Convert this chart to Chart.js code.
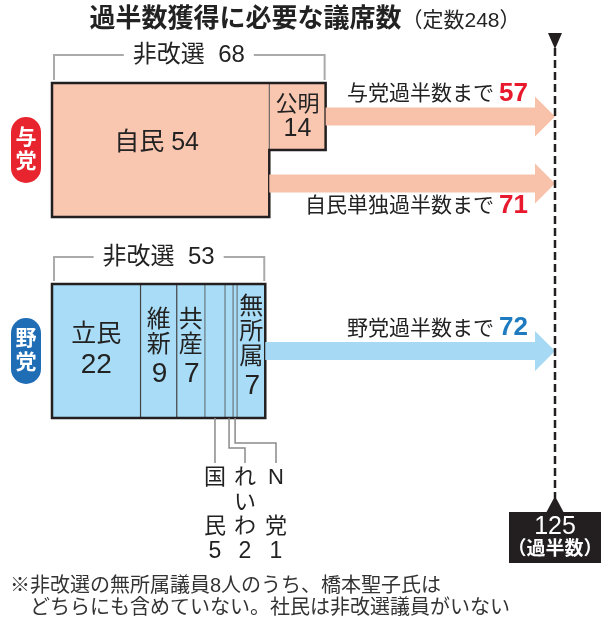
<!DOCTYPE html>
<html lang="ja">
<head>
<meta charset="UTF-8">
<title>過半数獲得に必要な議席数</title>
<script src="https://cdn.jsdelivr.net/npm/chart.js@4.4.1/dist/chart.umd.min.js"></script>
<style>
    html, body { margin: 0; padding: 0; background: #fff; }
    #wrap { position: relative; width: 613px; height: 631px; }
</style>
</head>
<body>
<div id="wrap"><canvas id="chartGiseki"></canvas></div>
<script>
// ============== DATA ==============

const rows = ['与党上', '与党下', '', '野党上', '野党下'];
const rulingParties = ['自民', '公明'];
const rulingSeats = [54, 14];
const oppParties = ['立民', '維新', '共産', '国民', 'れいわ', 'N党', '無所属'];
const oppSeats = [22, 9, 7, 5, 2, 1, 7];
const majority = 125;
const teisu = 248;
const arrowLabels = ['与党過半数まで', '自民単独過半数まで', '野党過半数まで'];
const arrowNeeds = [57, 71, 72];
const hikaisenTotals = [68, 53];
const noteLines = [
    '※非改選の無所属議員8人のうち、橋本聖子氏は',
    '　どちらにも含めていない。社民は非改選議員がいない'
];

// ============== STYLE ==============

// Latin digits from Liberation Sans, Japanese falls back to Noto CJK
const FONT = "'Liberation Sans', 'Noto Sans CJK JP', sans-serif";
const INK = '#231f20';
const RULING_FILL = '#f9c6b0';
const RULING_ARROW = '#f8c1a9';
const OPP_FILL = '#a9dcf6';
const OPP_ARROW = '#a6d9f3';
const RED = '#e8192c';
const BLUE = '#1f7bc0';

/**
 * Build bar datasets: ruling parties use rows 0-1 (公明 only row 0), opposition rows 3-4
 */
function buildDatasets() {
    const sets = [];
    rulingParties.forEach((name, i) => {
        const data = [rulingSeats[i], i === 0 ? rulingSeats[i] : null, null, null, null];
        sets.push({ label: name, data: data, backgroundColor: RULING_FILL });
    });
    oppParties.forEach((name, i) => {
        sets.push({ label: name, data: [null, null, null, oppSeats[i], oppSeats[i]], backgroundColor: OPP_FILL });
    });
    return sets;
}

function barBox(chart, dsIndex, row) {
    const el = chart.getDatasetMeta(dsIndex).data[row];
    const p = el.getProps(['x', 'y', 'base', 'height'], true);
    return { left: Math.min(p.x, p.base), right: Math.max(p.x, p.base), top: p.y - p.height / 2, bottom: p.y + p.height / 2, cy: p.y };
}

function text(ctx, str, x, y, font, color, align) {
    ctx.font = font;
    ctx.fillStyle = color;
    ctx.textAlign = align || 'center';
    ctx.textBaseline = 'middle';
    ctx.fillText(str, x, y);
}

function drawArrow(ctx, x0, x1, y, color) {
    const shaft = 9, head = 20, headLen = 20;
    ctx.fillStyle = color;
    ctx.beginPath();
    ctx.moveTo(x0, y - shaft);
    ctx.lineTo(x1 - headLen, y - shaft);
    ctx.lineTo(x1 - headLen, y - head);
    ctx.lineTo(x1, y);
    ctx.lineTo(x1 - headLen, y + head);
    ctx.lineTo(x1 - headLen, y + shaft);
    ctx.lineTo(x0, y + shaft);
    ctx.closePath();
    ctx.fill();
}

function drawArrowLabel(ctx, label, num, xr, y, numColor) {
    const numFont = 'bold 26px ' + FONT;
    ctx.font = numFont;
    const w = ctx.measureText(String(num)).width;
    text(ctx, String(num), xr, y, numFont, numColor, 'right');
    text(ctx, label, xr - w - 5, y + 1, '21px ' + FONT, '#222', 'right');
}

function drawBracket(ctx, label, left, right, y, bottom) {
    const f = '24px ' + FONT;
    ctx.font = f;
    const cx = (left + right) / 2;
    const half = ctx.measureText(label).width / 2 + 9;
    ctx.strokeStyle = '#aaaaaa';
    ctx.lineWidth = 2;
    ctx.beginPath();
    ctx.moveTo(cx - half, y);
    ctx.lineTo(left + 2, y);
    ctx.lineTo(left + 2, bottom);
    ctx.moveTo(cx + half, y);
    ctx.lineTo(right - 1, y);
    ctx.lineTo(right - 1, bottom);
    ctx.stroke();
    text(ctx, label, cx, y, f, '#222');
}

function drawPill(ctx, label, cx, cy, color) {
    const w = 30, h = 66, r = 15;
    ctx.fillStyle = color;
    ctx.beginPath();
    ctx.roundRect(cx - w / 2, cy - h / 2, w, h, r);
    ctx.fill();
    text(ctx, label[0], cx, cy - 12, 'bold 21px ' + FONT, '#fff');
    text(ctx, label[1], cx, cy + 12, 'bold 21px ' + FONT, '#fff');
}

// ============== OVERLAY PLUGIN ==============

const overlayPlugin = {
    id: 'overlay',
    afterDatasetsDraw(chart) {
        const ctx = chart.ctx;
        const xs = chart.scales.x;
        const nR = rulingParties.length;
        ctx.save();

        // ----- title -----
        const fMain = 'bold 26px ' + FONT;
        const fSub = '21px ' + FONT;
        const tMain = '過半数獲得に必要な議席数';
        const tSub = '（定数' + teisu + '）';
        ctx.font = fMain;
        const wMain = ctx.measureText(tMain).width;
        ctx.font = fSub;
        const wSub = ctx.measureText(tSub).width;
        const tx = 305 - (wMain + wSub) / 2;
        text(ctx, tMain, tx, 20, fMain, '#222', 'left');
        text(ctx, tSub, tx + wMain, 21, fSub, '#222', 'left');

        // ----- ruling block -----
        const jimin0 = barBox(chart, 0, 0);
        const jimin1 = barBox(chart, 0, 1);
        const komei = barBox(chart, 1, 0);
        ctx.strokeStyle = '#555';
        ctx.lineWidth = 1;
        ctx.beginPath();
        ctx.moveTo(komei.left, komei.top);
        ctx.lineTo(komei.left, komei.bottom);
        ctx.stroke();
        ctx.strokeStyle = INK;
        ctx.lineWidth = 2.5;
        ctx.beginPath();
        ctx.moveTo(jimin0.left, jimin0.top);
        ctx.lineTo(komei.right, komei.top);
        ctx.lineTo(komei.right, komei.bottom);
        ctx.lineTo(jimin1.right, komei.bottom);
        ctx.lineTo(jimin1.right, jimin1.bottom);
        ctx.lineTo(jimin1.left, jimin1.bottom);
        ctx.closePath();
        ctx.stroke();

        text(ctx, rulingParties[0] + ' ' + rulingSeats[0], (jimin1.left + jimin1.right) / 2 - 4, (jimin0.top + jimin1.bottom) / 2 - 7, '25px ' + FONT, '#222');
        const kx = (komei.left + komei.right) / 2;
        text(ctx, rulingParties[1], kx, komei.cy - 12, '22px ' + FONT, '#222');
        text(ctx, String(rulingSeats[1]), kx, komei.cy + 13, '25px ' + FONT, '#222');

        drawBracket(ctx, '非改選  ' + hikaisenTotals[0], jimin0.left, komei.right, jimin0.top - 28, jimin0.top - 3);
        drawPill(ctx, '与党', 26, (jimin0.top + jimin1.bottom) / 2, '#e8242e');

        // ----- opposition block -----
        const oppTop = barBox(chart, nR, 3).top;
        const oppBottom = barBox(chart, nR, 4).bottom;
        const oppMid = barBox(chart, nR, 3).bottom;
        const boxes = oppParties.map((p, i) => barBox(chart, nR + i, 3));
        boxes.forEach((b, i) => {
            if (i === 0) return;
            const narrow = (b.right - b.left) < 25 || (boxes[i - 1].right - boxes[i - 1].left) < 25;
            ctx.strokeStyle = narrow ? '#6b7880' : '#444';
            ctx.lineWidth = 1.2;
            ctx.beginPath();
            ctx.moveTo(b.left, oppTop);
            ctx.lineTo(b.left, oppBottom);
            ctx.stroke();
        });
        ctx.strokeStyle = INK;
        ctx.lineWidth = 2.5;
        ctx.strokeRect(boxes[0].left, oppTop, boxes[boxes.length - 1].right - boxes[0].left, oppBottom - oppTop);

        drawBracket(ctx, '非改選  ' + hikaisenTotals[1], boxes[0].left, boxes[boxes.length - 1].right, oppTop - 27, oppTop - 3);
        drawPill(ctx, '野党', 26, oppMid, '#1e6db5');

        // labels inside the block or below it with leader lines
        let leaderCol = 0;
        const colX0 = 214, colStep = 31;
        const rowY = [478, 503, 527, 552];
        boxes.forEach((b, i) => {
            const w = b.right - b.left;
            const cx = (b.left + b.right) / 2;
            const name = oppParties[i];
            const num = String(oppSeats[i]);
            if (w > 60) {
                text(ctx, name, cx, oppMid - 16, '25px ' + FONT, '#222');
                text(ctx, num, cx, oppMid + 14, '28px ' + FONT, '#222');
            } else if (w > 25) {
                const chars = name.split('');
                const n = chars.length + 1;
                const step = 25;
                const y0 = oppMid - 6 - (n - 1) * step / 2;
                chars.forEach((c, k) => text(ctx, c, cx, y0 + k * step, '24px ' + FONT, '#222'));
                text(ctx, num, cx + 1, y0 + chars.length * step + 4, '28px ' + FONT, '#222');
            } else {
                const lx = colX0 + leaderCol * colStep;
                const drop = [0, 30, 25][leaderCol];
                ctx.strokeStyle = '#8a8a8a';
                ctx.lineWidth = 1.5;
                ctx.beginPath();
                ctx.moveTo(cx, oppBottom);
                if (leaderCol === 0) {
                    ctx.lineTo(cx, 463);
                } else {
                    ctx.lineTo(cx, oppBottom + drop);
                    ctx.lineTo(lx, oppBottom + drop);
                    ctx.lineTo(lx, 463);
                }
                ctx.stroke();
                const tx2 = leaderCol === 0 ? cx : lx;
                const chars = name.split('');
                const slots = chars.length === 3 ? [0, 1, 2] : [0, 2];
                chars.forEach((c, k) => text(ctx, c, tx2, rowY[slots[k]], '22px ' + FONT, '#222'));
                text(ctx, num, tx2, rowY[3], '23px ' + FONT, '#222');
                leaderCol++;
            }
        });

        // ----- arrows -----
        const xEnd = xs.getPixelForValue(majority);
        const arrowRows = [jimin0.cy, jimin1.cy, oppMid];
        const arrowColors = [RULING_ARROW, RULING_ARROW, OPP_ARROW];
        const numColors = [RED, RED, BLUE];
        const labelDy = [-23, 22, -23];
        arrowNeeds.forEach((need, i) => {
            const x0 = xs.getPixelForValue(majority - need);
            drawArrow(ctx, x0, xEnd, arrowRows[i], arrowColors[i]);
            drawArrowLabel(ctx, arrowLabels[i], need, xEnd - 27, arrowRows[i] + labelDy[i], numColors[i]);
        });

        // ----- majority line -----
        ctx.strokeStyle = INK;
        ctx.lineWidth = 2.5;
        ctx.setLineDash([8, 4]);
        ctx.beginPath();
        ctx.moveTo(xEnd, 48);
        ctx.lineTo(xEnd, 498);
        ctx.stroke();
        ctx.setLineDash([]);
        ctx.fillStyle = INK;
        ctx.beginPath();
        ctx.moveTo(xEnd - 7, 33);
        ctx.lineTo(xEnd + 7, 33);
        ctx.lineTo(xEnd, 49);
        ctx.closePath();
        ctx.fill();
        ctx.beginPath();
        ctx.moveTo(xEnd - 9, 513);
        ctx.lineTo(xEnd + 9, 513);
        ctx.lineTo(xEnd, 496);
        ctx.closePath();
        ctx.fill();
        ctx.fillRect(xEnd - 46, 512, 92, 51);
        text(ctx, String(majority), xEnd, 527, '25px ' + FONT, '#fff');
        text(ctx, '（過半数）', xEnd, 550, 'bold 19px ' + FONT, '#fff');

        // ----- note -----
        noteLines.forEach((line, i) => text(ctx, line, 10, 586 + i * 22, '20px ' + FONT, '#333', 'left'));

        ctx.restore();
    }
};

// ============== CHART ==============

function initChartGiseki() {
    const ctx = document.getElementById('chartGiseki');
    if (!ctx) return;

    new Chart(ctx.getContext('2d'), {
        type: 'bar',
        data: {
            labels: rows,
            datasets: buildDatasets().map(ds => Object.assign(ds, {
                borderWidth: 0,
                barPercentage: 1,
                categoryPercentage: 1
            }))
        },
        options: {
            indexAxis: 'y',
            responsive: true,
            maintainAspectRatio: false,
            animation: false,
            layout: {
                padding: { left: 52, right: 58, top: 83, bottom: 213 }
            },
            plugins: {
                legend: { display: false },
                tooltip: { enabled: false },
                title: { display: false }
            },
            scales: {
                x: { stacked: true, min: 0, max: majority, display: false },
                y: { stacked: true, display: false }
            }
        },
        plugins: [overlayPlugin]
    });
}

document.addEventListener('DOMContentLoaded', function () {
    initChartGiseki();
});
</script>
</body>
</html>
